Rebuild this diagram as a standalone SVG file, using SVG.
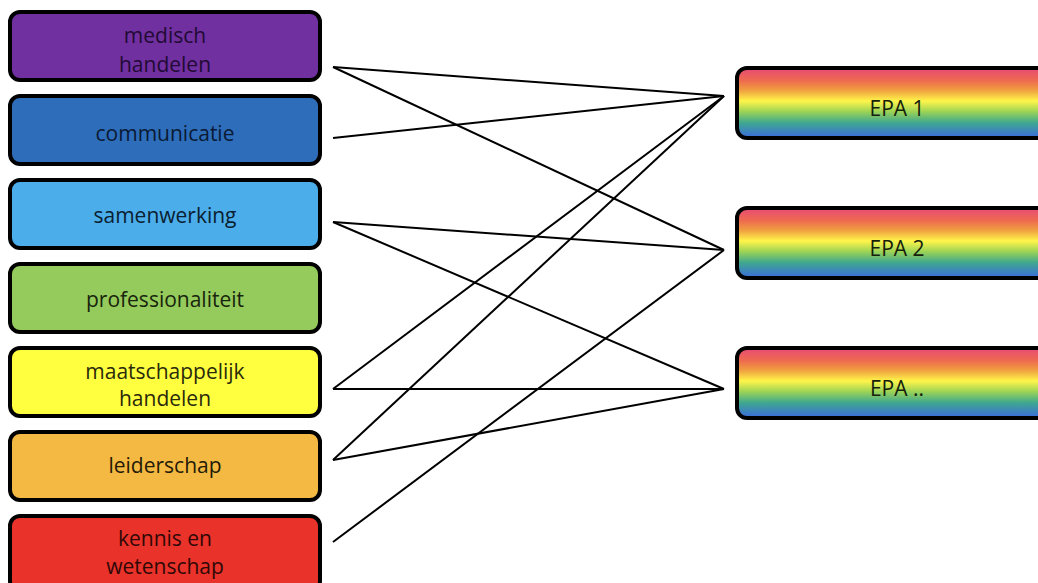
<svg xmlns="http://www.w3.org/2000/svg" width="1038" height="583" viewBox="0 0 1038 583">
<defs>
<linearGradient id="rainbow" x1="0" y1="0" x2="0" y2="1">
<stop offset="0" stop-color="#E84A78"/>
<stop offset="0.18" stop-color="#EE6A4E"/>
<stop offset="0.32" stop-color="#F0A040"/>
<stop offset="0.47" stop-color="#FFF54A"/>
<stop offset="0.62" stop-color="#9ED455"/>
<stop offset="0.78" stop-color="#3FA88E"/>
<stop offset="1" stop-color="#3A6AE0"/>
</linearGradient>
<style>
.box{stroke:#000;stroke-width:4}
.lbl{font-family:"Open Sans","Liberation Sans",sans-serif;font-size:21px;text-anchor:middle}
.conn line{stroke:#000;stroke-width:2}
</style>
</defs>
<rect width="1038" height="583" fill="#fff"/>
<g id="medisch-handelen"><rect class="box" x="10" y="12" width="310" height="68" rx="10" fill="#7030A0"/><text class="lbl" x="165" y="43" fill="#220A35">medisch</text><text class="lbl" x="165" y="72" fill="#220A35">handelen</text></g>
<g id="communicatie"><rect class="box" x="10" y="96" width="310" height="68" rx="10" fill="#2E6DBA"/><text class="lbl" x="165" y="141" fill="#0A1A35">communicatie</text></g>
<g id="samenwerking"><rect class="box" x="10" y="180" width="310" height="68" rx="10" fill="#4BADEA"/><text class="lbl" x="165" y="223" fill="#0A2030">samenwerking</text></g>
<g id="professionaliteit"><rect class="box" x="10" y="264" width="310" height="68" rx="10" fill="#95CB5C"/><text class="lbl" x="165" y="307" fill="#18240C">professionaliteit</text></g>
<g id="maatschappelijk-handelen"><rect class="box" x="10" y="348" width="310" height="68" rx="10" fill="#FFFF40"/><text class="lbl" x="165" y="379" fill="#2A2A0A">maatschappelijk</text><text class="lbl" x="165" y="406" fill="#2A2A0A">handelen</text></g>
<g id="leiderschap"><rect class="box" x="10" y="432" width="310" height="68" rx="10" fill="#F4B942"/><text class="lbl" x="165" y="473" fill="#241A08">leiderschap</text></g>
<g id="kennis-en-wetenschap"><rect class="box" x="10" y="516" width="310" height="75" rx="10" fill="#E8322A"/><text class="lbl" x="165" y="546" fill="#300806">kennis en</text><text class="lbl" x="165" y="574" fill="#300806">wetenschap</text></g>
<g id="epa-1"><rect class="box" x="737" y="68" width="320" height="70" rx="10" fill="url(#rainbow)"/><text class="lbl" x="897" y="116" fill="#16200C">EPA 1</text></g>
<g id="epa-2"><rect class="box" x="737" y="208" width="320" height="70" rx="10" fill="url(#rainbow)"/><text class="lbl" x="897" y="256" fill="#16200C">EPA 2</text></g>
<g id="epa-dots"><rect class="box" x="737" y="348" width="320" height="70" rx="10" fill="url(#rainbow)"/><text class="lbl" x="897" y="396" fill="#16200C">EPA ..</text></g>
<g id="connectors" class="conn">
<line x1="333" y1="67" x2="724" y2="96"/>
<line x1="333" y1="67" x2="724" y2="250"/>
<line x1="333" y1="138" x2="724" y2="96"/>
<line x1="333" y1="222" x2="724" y2="250"/>
<line x1="333" y1="222" x2="724" y2="389"/>
<line x1="333" y1="389" x2="724" y2="389"/>
<line x1="333" y1="389" x2="724" y2="96"/>
<line x1="333" y1="460" x2="724" y2="389"/>
<line x1="333" y1="460" x2="724" y2="96"/>
<line x1="333" y1="542" x2="724" y2="250"/>
</g>
</svg>
